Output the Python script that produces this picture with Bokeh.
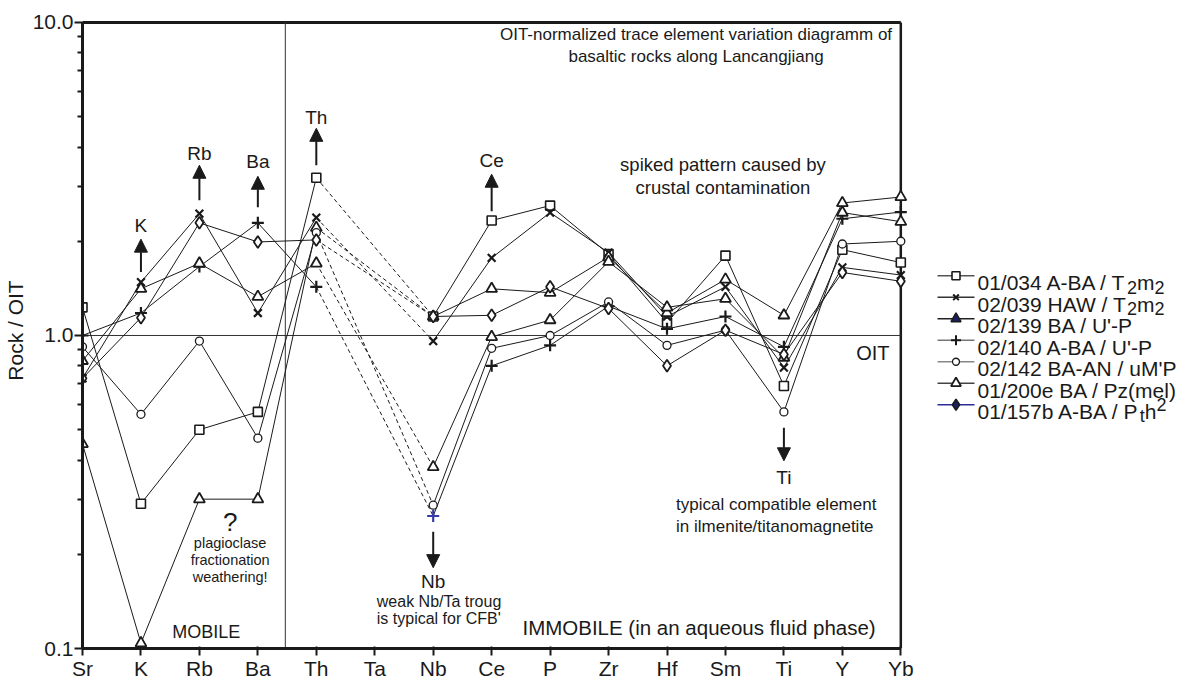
import math
from bokeh.plotting import figure
from bokeh.layouts import row
from bokeh.models import Range1d, FixedTicker, PrintfTickFormatter, Label, Arrow, NormalHead
from bokeh.embed import file_html
from bokeh.resources import INLINE

NaN = float("nan")

# Trace elements in diagram order (Ta not analysed)
elements = ["Sr", "K", "Rb", "Ba", "Th", "Ta", "Nb", "Ce", "P", "Zr", "Hf", "Sm", "Ti", "Y", "Yb"]

# OIT-normalised concentrations per sample
s01_034 = [1.23, 0.29, 0.50, 0.57, 3.19, NaN, 1.15, 2.33, 2.60, 1.82, 1.10, 1.80, 0.69, 1.88, 1.71]
s02_039 = [0.73, 1.48, 2.45, 1.18, 2.38, NaN, 0.96, 1.77, 2.47, 1.84, 1.15, 1.43, 0.79, 1.65, 1.56]
s02_139 = [0.45, 0.104, 0.30, 0.30, 2.21, NaN, 1.15, 1.41, 1.37, 1.78, 1.18, 1.51, 1.16, 2.65, 2.77]
s02_140 = [1.00, 1.18, 1.66, 2.29, 1.43, NaN, 0.265, 0.80, 0.93, 1.24, 1.05, 1.15, 0.92, 2.36, 2.48]
s02_142 = [0.92, 0.56, 0.96, 0.47, 2.13, NaN, 0.287, 0.91, 1.00, 1.28, 0.93, 1.04, 0.57, 1.96, 2.00]
s01_200e = [0.83, 1.41, 1.70, 1.33, 1.70, NaN, 0.38, 0.99, 1.12, 1.72, 1.23, 1.31, 0.85, 2.47, 2.31]
s01_157b = [0.73, 1.14, 2.29, 1.99, 2.02, NaN, 1.15, 1.16, 1.43, 1.22, 0.80, 1.04, 0.87, 1.59, 1.49]

# legend labels: "_x" = subscript, "^x" = superscript
series_labels = [
    "01/034 A-BA / T_2m_2",
    "02/039 HAW / T_2m_2",
    "02/139 BA / U'-P",
    "02/140 A-BA / U'-P",
    "02/142 BA-AN / uM'P",
    "01/200e BA / Pz(mel)",
    "01/157b A-BA / P_th^2",
]
series_values = [s01_034, s02_039, s02_139, s02_140, s02_142, s01_200e, s01_157b]

FONT = "Liberation Sans"
INK = "#1a1a1a"
BLUE = "#3a3aa6"

marker_styles = [
    dict(marker="square", size=9, fill_color="white", line_width=1.6),
    dict(marker="x", size=11, fill_color=None, line_width=2.2),
    dict(marker="triangle", size=11, fill_color="white", line_width=1.8),
    dict(marker="cross", size=12, fill_color=None, line_width=2.2),
    dict(marker="circle", size=8, fill_color="white", line_width=1.3),
    dict(marker="triangle", size=11, fill_color="white", line_width=1.8),
    dict(marker="diamond", size=12, fill_color="white", line_width=1.8),
]

# ---------------------------------------------------------------- main plot
X_PAD = 0.2
W_MAIN, H = 920, 682
BL, BR, BT, BB = 80, 8, 12, 33
Y_TOP = 10 ** (1 + 10 / 313.5)
last = len(elements) - 1

p = figure(width=W_MAIN, height=H,
           x_range=Range1d(0, last + X_PAD),
           y_range=Range1d(0.1, Y_TOP), y_axis_type="log",
           output_backend="svg", toolbar_location=None,
           min_border_left=BL, min_border_right=BR,
           min_border_top=BT, min_border_bottom=BB)
p.outline_line_color = None
p.xgrid.visible = False
p.ygrid.visible = False
p.background_fill_color = "white"
p.border_fill_color = "white"

unit = (W_MAIN - BL - BR) / (last + X_PAD)


def ax(px):
    """canvas x pixel -> data x"""
    return (px - BL) / unit


def ay(py):
    """canvas y pixel -> data y (log axis, 10 at 22 px, 313.5 px/decade)"""
    return 10 ** (1 - (py - 22) / 313.5)


# axes
xa = p.xaxis[0]
xa.ticker = FixedTicker(ticks=list(range(len(elements))))
xa.major_label_overrides = {i: e for i, e in enumerate(elements)}
xa.bounds = (0, last)
xa.axis_line_width = 3
xa.axis_line_color = INK
xa.major_tick_out = 7
xa.major_tick_in = 2
xa.major_tick_line_width = 2
xa.major_tick_line_color = INK
xa.minor_tick_line_color = None
xa.major_label_standoff = 1
xa.major_label_text_font = FONT
xa.major_label_text_font_size = "21px"
xa.major_label_text_color = INK

ya = p.yaxis[0]
ya.ticker = FixedTicker(ticks=[0.1, 1, 10],
                        minor_ticks=[0.2, 0.3, 0.4, 0.5, 0.6, 0.7, 0.8, 0.9,
                                     2, 3, 4, 5, 6, 7, 8, 9])
ya.formatter = PrintfTickFormatter(format="%.1f")
ya.bounds = (0.1, 10)
ya.axis_line_width = 3
ya.axis_line_color = INK
ya.major_tick_out = 8
ya.major_tick_in = 2
ya.major_tick_line_width = 2
ya.major_tick_line_color = INK
ya.minor_tick_out = 5
ya.minor_tick_in = 0
ya.minor_tick_line_width = 2
ya.minor_tick_line_color = INK
ya.major_label_standoff = 1
ya.major_label_text_font = FONT
ya.major_label_text_font_size = "21px"
ya.major_label_text_color = INK
ya.axis_label = "Rock / OIT"
ya.axis_label_text_font = FONT
ya.axis_label_text_font_size = "21px"
ya.axis_label_text_font_style = "normal"
ya.axis_label_text_color = INK
ya.axis_label_standoff = 3

# frame: top and right border
p.segment(x0=[0], y0=[10], x1=[last], y1=[10], line_width=3, line_color=INK)
p.segment(x0=[last], y0=[0.1], x1=[last], y1=[10], line_width=2.5, line_color=INK)
# OIT reference level and mobile / immobile divider
p.segment(x0=[0], y0=[1], x1=[last], y1=[1], line_width=1, line_color="#333333")
p.segment(x0=[3.47], y0=[0.1], x1=[3.47], y1=[10], line_width=1, line_color="#333333")

xs = list(range(len(elements)))
i_th, i_nb = elements.index("Th"), elements.index("Nb")

# patterns: solid where measured neighbours exist, dashed across the missing Ta
for vals in series_values:
    p.line(xs, vals, line_color=INK, line_width=1)
    p.line([i_th, i_nb], [vals[i_th], vals[i_nb]], line_color=INK,
           line_width=1, line_dash="4 3")

for k, (vals, st) in enumerate(zip(series_values, marker_styles)):
    colors = [INK] * len(vals)
    if k == 3:
        colors[i_nb] = BLUE
    p.scatter(xs, vals, marker=st["marker"], size=st["size"],
              fill_color=st["fill_color"], line_color=colors,
              line_width=st["line_width"])


def label(x, y, text, size, align="center", baseline="middle"):
    p.add_layout(Label(x=x, y=y, text=text, text_font=FONT,
                       text_font_size=f"{size}px", text_align=align,
                       text_baseline=baseline, text_color=INK))


def arrow(x, y0, y1):
    p.add_layout(Arrow(end=NormalHead(size=13, fill_color=INK, line_color=INK),
                       x_start=x, y_start=y0, x_end=x, y_end=y1,
                       line_width=2, line_color=INK))


# diagram title
label(ax(695), ay(34), "OIT-normalized trace element variation diagramm of", 17)
label(ax(695), ay(56), "basaltic rocks along Lancangjiang", 17)

# enriched elements
for name, py_text, py_base, py_tip in [("K", 225, 272, 239), ("Rb", 153, 200, 165),
                                       ("Ba", 161, 207, 176), ("Th", 117, 165, 128),
                                       ("Ce", 160, 211, 174)]:
    xi = elements.index(name)
    label(xi, ay(py_text), name, 19)
    arrow(xi, ay(py_base), ay(py_tip))

# depleted elements
arrow(i_nb, ay(532), ay(568))
label(i_nb, ay(582), "Nb", 19)
label(ax(375), ay(602), "weak Nb/Ta troug", 16, align="left")
label(ax(375), ay(619), "is typical for CFB'", 16, align="left")

i_ti = elements.index("Ti")
arrow(i_ti, ay(428), ay(461))
label(i_ti, ay(478), "Ti", 19)
label(ax(675), ay(505), "typical compatible element", 17, align="left")
label(ax(675), ay(527), "in ilmenite/titanomagnetite", 17, align="left")

label(ax(722), ay(164), "spiked pattern caused by", 18.5)
label(ax(722), ay(187), "crustal contamination", 18.5)

label(ax(889), ay(353), "OIT", 20, align="right")

label(ax(228), ay(522), "?", 26)
label(ax(228), ay(543), "plagioclase", 14.5)
label(ax(228), ay(560), "fractionation", 14.5)
label(ax(228), ay(577), "weathering!", 14.5)

label(ax(170), ay(632), "MOBILE", 18, align="left")
label(ax(521), ay(628), "IMMOBILE (in an aqueous fluid phase)", 20.5, align="left")

# ---------------------------------------------------------------- legend
W_LEG = 1182 - W_MAIN
leg = figure(width=W_LEG, height=H, x_range=Range1d(W_MAIN, 1182),
             y_range=Range1d(H, 0), output_backend="svg", toolbar_location=None,
             x_axis_location=None, y_axis_location=None, min_border=0)
leg.outline_line_color = None
leg.grid.visible = False
leg.background_fill_color = "white"
leg.border_fill_color = "white"

# Helvetica / Arial advance widths (1/1000 em)
ADV = {"0": 556, "1": 556, "2": 556, "3": 556, "4": 556, "5": 556, "6": 556,
       "7": 556, "8": 556, "9": 556, "/": 278, " ": 278, "A": 667, "-": 333,
       "B": 667, "T": 611, "m": 833, "H": 722, "W": 944, "U": 722, "'": 191,
       "P": 667, "N": 722, "u": 556, "M": 833, "e": 556, "z": 500, "(": 333,
       ")": 333, "l": 222, "t": 278, "h": 556, "b": 556}


def split_label(text):
    segs, buf, i = [], "", 0
    while i < len(text):
        c = text[i]
        if c in "_^" and i + 1 < len(text):
            if buf:
                segs.append((buf, 0))
                buf = ""
            segs.append((text[i + 1], 1 if c == "_" else -1))
            i += 2
        else:
            buf += c
            i += 1
    if buf:
        segs.append((buf, 0))
    return segs


legend_markers = [
    dict(marker="square", size=8, fill_color="white", line_width=1.6),
    dict(marker="x", size=8, fill_color=None, line_width=2),
    dict(marker="triangle", size=10, fill_color="#1c1f5e", line_width=1.5),
    dict(marker="cross", size=10, fill_color=None, line_width=2),
    dict(marker="circle", size=7, fill_color="white", line_width=1.3),
    dict(marker="triangle", size=10, fill_color="white", line_width=1.8),
    dict(marker="diamond", size=11, fill_color="#1c1f5e", line_width=1.5),
]
legend_lines = ["#555555", "#333333", "#222222", "#777777", "#888888", "#444444", "#2d2d9a"]

FS = 21
for i, (lab, st, lc) in enumerate(zip(series_labels, legend_markers, legend_lines)):
    yc = 282.3 + 23.05 * i
    leg.line([937, 974], [yc, yc], line_color=lc, line_width=1.6)
    leg.scatter([955.5], [yc], marker=st["marker"], size=st["size"],
                fill_color=st["fill_color"], line_color=INK, line_width=st["line_width"])
    xcur = 977.0
    base = yc + 7.5
    for txt, shift in split_label(lab):
        size = FS if shift == 0 else 18
        yb = base + (5 if shift == 1 else (-8 if shift == -1 else 0))
        leg.add_layout(Label(x=xcur, y=yb, text=txt, text_font=FONT,
                             text_font_size=f"{size}px", text_align="left",
                             text_baseline="alphabetic", text_color=INK))
        xcur += sum(ADV.get(c, 556) for c in txt) * size / 1000.0

layout = row(p, leg)
open("out.html", "w").write(file_html(layout, INLINE))
